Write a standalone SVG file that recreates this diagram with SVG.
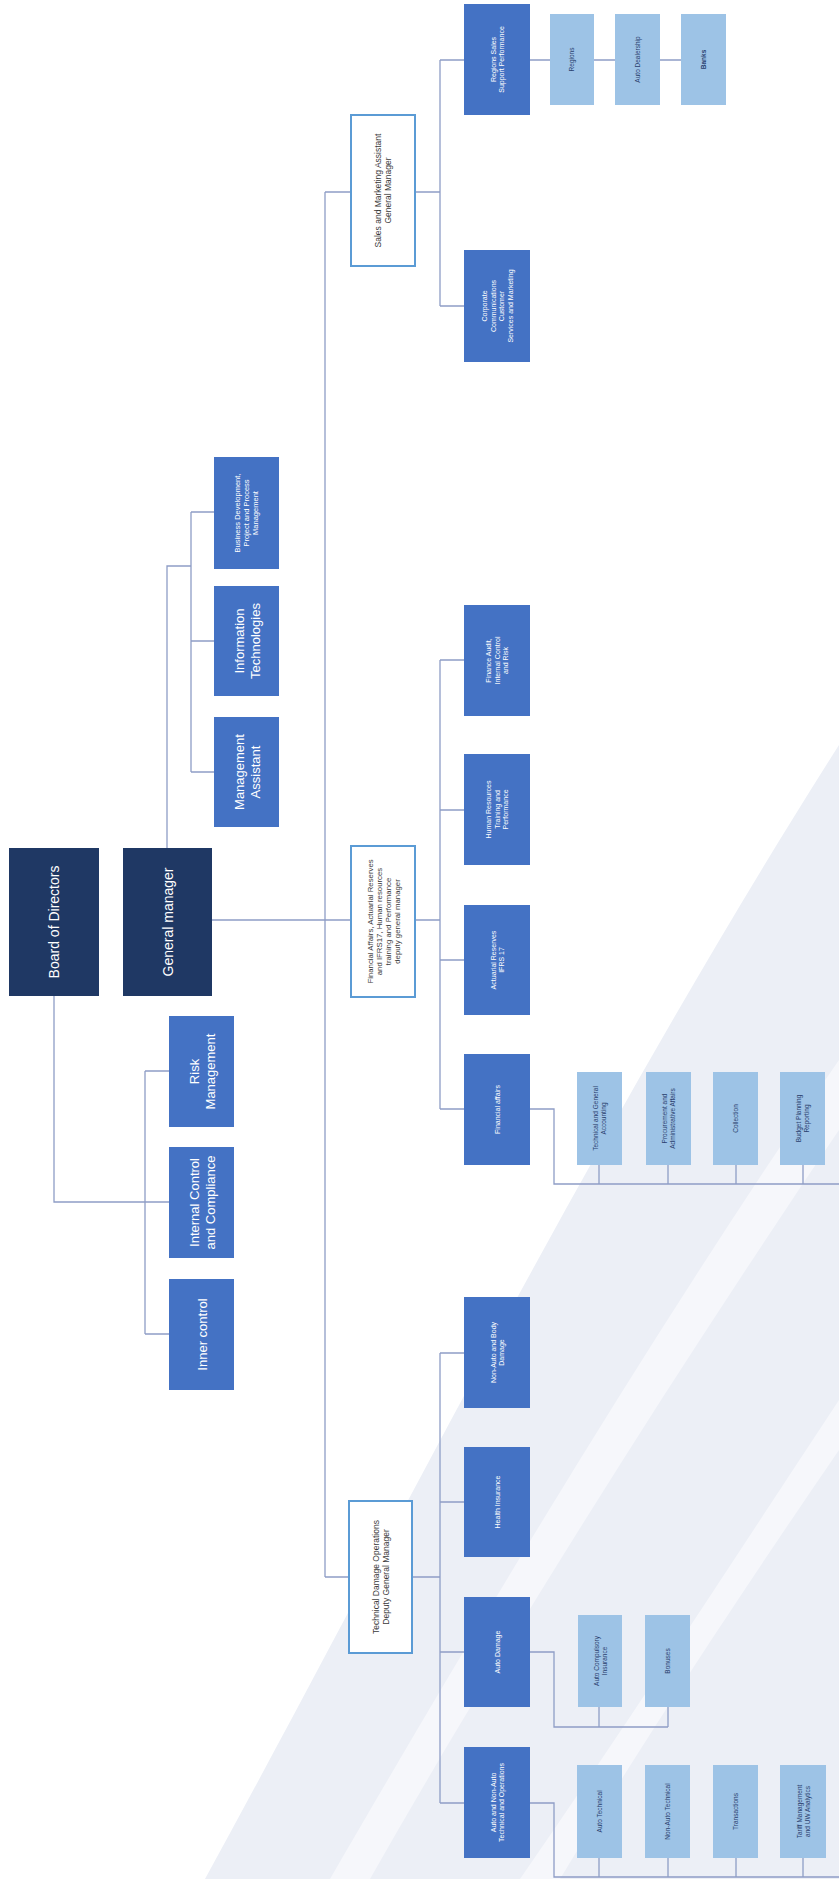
<svg xmlns="http://www.w3.org/2000/svg" width="839" height="1879" viewBox="0 0 839 1879">
<style>
.dark{fill:#1f3864}
.mid{fill:#4472c4}
.lite{fill:#9dc3e6}
.dep{fill:#ffffff;stroke:#5b9bd5;stroke-width:2}
text{font-family:"Liberation Sans",Arial,sans-serif;text-anchor:middle}
.w{fill:#ffffff}
.d{fill:#3a3a3a}
.n{fill:#2a3f6e}
.cn path{fill:none;stroke:#8e9dc6;stroke-width:1.3}
</style>
<rect width="839" height="1879" fill="#ffffff"/>
<g id="background">
<path d="M205,1879 C380,1560 600,1120 839,745 L839,1879 Z" fill="#eceff6"/>
<path d="M330,1879 C480,1620 660,1320 839,1060 L839,1130 C670,1380 500,1650 370,1879 Z" fill="#f6f7fb"/>
<path d="M520,1879 C630,1720 740,1550 839,1400 L839,1450 C750,1580 650,1730 560,1879 Z" fill="#f6f7fb"/>
</g>
<g class="cn" id="connectors">
<path d="M54,996 V1202 H169"/>
<path d="M145,1071 V1334 M145,1071 H169 M145,1334 H169"/>
<path d="M167,848 V566 H191 M191,512 V772 M191,512 H214 M191,641 H214 M191,772 H214"/>
<path d="M212,920 H351 M325,192 V1577 M325,192 H351 M325,1577 H349"/>
<path d="M415,192 H440 M440,60 V306 M440,60 H464 M440,306 H464"/>
<path d="M530,60 H550 M594,60 H615 M660,60 H681"/>
<path d="M415,920 H440 M440,660 V1109 M440,660 H464 M440,810 H464 M440,960 H464 M440,1109 H464"/>
<path d="M530,1109 H554 V1184 H839 M599,1165 V1184 M668,1165 V1184 M736,1165 V1184 M803,1165 V1184"/>
<path d="M412,1577 H440 M440,1353 V1803 M440,1353 H464 M440,1502 H464 M440,1652 H464 M440,1803 H464"/>
<path d="M530,1652 H554 V1727 H668 M599,1707 V1727 M668,1707 V1727"/>
<path d="M530,1803 H554 V1877 H839 M599,1858 V1877 M668,1858 V1877 M736,1858 V1877 M803,1858 V1877"/>
</g>
<g id="board"><rect class="dark" x="9" y="848" width="90" height="148"/><text class="w" font-size="14" transform="translate(54,922) rotate(-90)"><tspan x="0" y="5">Board of Directors</tspan></text></g>
<g id="gm"><rect class="dark" x="123" y="848" width="89" height="148"/><text class="w" font-size="14" transform="translate(167.5,922) rotate(-90)"><tspan x="0" y="5">General manager</tspan></text></g>
<g id="risk"><rect class="mid" x="169" y="1016" width="65" height="111"/><text class="w" font-size="13" transform="translate(201.5,1071.5) rotate(-90)"><tspan x="0" y="-3">Risk</tspan><tspan x="0" y="13">Management</tspan></text></g>
<g id="icc"><rect class="mid" x="169" y="1147" width="65" height="111"/><text class="w" font-size="13" transform="translate(201.5,1202.5) rotate(-90)"><tspan x="0" y="-3">Internal Control</tspan><tspan x="0" y="13">and Compliance</tspan></text></g>
<g id="inner"><rect class="mid" x="169" y="1279" width="65" height="111"/><text class="w" font-size="13" transform="translate(201.5,1334.5) rotate(-90)"><tspan x="0" y="5">Inner control</tspan></text></g>
<g id="ma"><rect class="mid" x="214" y="717" width="65" height="110"/><text class="w" font-size="13" transform="translate(246.5,772) rotate(-90)"><tspan x="0" y="-3">Management</tspan><tspan x="0" y="13">Assistant</tspan></text></g>
<g id="it"><rect class="mid" x="214" y="586" width="65" height="110"/><text class="w" font-size="13" transform="translate(246.5,641) rotate(-90)"><tspan x="0" y="-3">Information</tspan><tspan x="0" y="13">Technologies</tspan></text></g>
<g id="bd"><rect class="mid" x="214" y="457" width="65" height="112"/><text class="w" font-size="7.5" transform="translate(246.5,513) rotate(-90)"><tspan x="0" y="-6.5">Business Development,</tspan><tspan x="0" y="2.5">Project and Process</tspan><tspan x="0" y="11.5">Management</tspan></text></g>
<g id="sales"><rect class="dep" x="351" y="115" width="64" height="151"/><text class="d" font-size="8.5" transform="translate(383,190.5) rotate(-90)"><tspan x="0" y="-2">Sales and Marketing Assistant</tspan><tspan x="0" y="8">General Manager</tspan></text></g>
<g id="finance"><rect class="dep" x="351" y="846" width="64" height="151"/><text class="d" font-size="7.8" transform="translate(383,921.5) rotate(-90)"><tspan x="0" y="-10.5">Financial Affairs, Actuarial Reserves</tspan><tspan x="0" y="-1.5">and IFRS17, Human resources</tspan><tspan x="0" y="7.5">training and Performance</tspan><tspan x="0" y="16.5">deputy general manager</tspan></text></g>
<g id="technical"><rect class="dep" x="349" y="1501" width="63" height="152"/><text class="d" font-size="8.5" transform="translate(380.5,1577) rotate(-90)"><tspan x="0" y="-2">Technical Damage Operations</tspan><tspan x="0" y="8">Deputy General Manager</tspan></text></g>
<g id="regions"><rect class="mid" x="464" y="4" width="66" height="111"/><text class="w" font-size="7" transform="translate(497,59.5) rotate(-90)"><tspan x="0" y="-1.5">Regions Sales</tspan><tspan x="0" y="7">Support Performance</tspan></text></g>
<g id="corporate"><rect class="mid" x="464" y="250" width="66" height="112"/><text class="w" font-size="7" transform="translate(497,306) rotate(-90)"><tspan x="0" y="-10">Corporate</tspan><tspan x="0" y="-1.5">Communications</tspan><tspan x="0" y="7">Customer</tspan><tspan x="0" y="15.5">Services and Marketing</tspan></text></g>
<g id="audit"><rect class="mid" x="464" y="605" width="66" height="111"/><text class="w" font-size="7" transform="translate(497,660.5) rotate(-90)"><tspan x="0" y="-6">Finance Audit,</tspan><tspan x="0" y="2.5">Internal Control</tspan><tspan x="0" y="11">and Risk</tspan></text></g>
<g id="hr"><rect class="mid" x="464" y="754" width="66" height="111"/><text class="w" font-size="7" transform="translate(497,809.5) rotate(-90)"><tspan x="0" y="-6">Human Resources</tspan><tspan x="0" y="2.5">Training and</tspan><tspan x="0" y="11">Performance</tspan></text></g>
<g id="actuarial"><rect class="mid" x="464" y="905" width="66" height="110"/><text class="w" font-size="7" transform="translate(497,960) rotate(-90)"><tspan x="0" y="-1.5">Actuarial Reserves</tspan><tspan x="0" y="7">IFRS 17</tspan></text></g>
<g id="finaffairs"><rect class="mid" x="464" y="1054" width="66" height="111"/><text class="w" font-size="7" transform="translate(497,1109.5) rotate(-90)"><tspan x="0" y="2.5">Financial affairs</tspan></text></g>
<g id="nonauto"><rect class="mid" x="464" y="1297" width="66" height="111"/><text class="w" font-size="7" transform="translate(497,1352.5) rotate(-90)"><tspan x="0" y="-1.5">Non-Auto and Body</tspan><tspan x="0" y="7">Damage</tspan></text></g>
<g id="health"><rect class="mid" x="464" y="1447" width="66" height="110"/><text class="w" font-size="7" transform="translate(497,1502) rotate(-90)"><tspan x="0" y="2.5">Health Insurance</tspan></text></g>
<g id="autodamage"><rect class="mid" x="464" y="1597" width="66" height="110"/><text class="w" font-size="7" transform="translate(497,1652) rotate(-90)"><tspan x="0" y="2.5">Auto Damage</tspan></text></g>
<g id="autonon"><rect class="mid" x="464" y="1747" width="66" height="111"/><text class="w" font-size="7" transform="translate(497,1802.5) rotate(-90)"><tspan x="0" y="-1.5">Auto and Non-Auto</tspan><tspan x="0" y="7">Technical and Operations</tspan></text></g>
<g id="l-regions"><rect class="lite" x="550" y="14" width="44" height="91"/><text class="n" font-size="6.5" transform="translate(572,59.5) rotate(-90)"><tspan x="0" y="2.3">Regions</tspan></text></g>
<g id="l-dealer"><rect class="lite" x="615" y="14" width="45" height="91"/><text class="n" font-size="6.5" transform="translate(637.5,59.5) rotate(-90)"><tspan x="0" y="2.3">Auto Dealership</tspan></text></g>
<g id="l-banks"><rect class="lite" x="681" y="14" width="45" height="91"/><text class="n" font-size="6.5" font-weight="bold" transform="translate(703.5,59.5) rotate(-90)"><tspan x="0" y="2.3">Banks</tspan></text></g>
<g id="l-acc"><rect class="lite" x="577" y="1072" width="45" height="93"/><text class="n" font-size="6.5" transform="translate(599.5,1118.5) rotate(-90)"><tspan x="0" y="-1.5">Technical and General</tspan><tspan x="0" y="6.5">Accounting</tspan></text></g>
<g id="l-proc"><rect class="lite" x="646" y="1072" width="45" height="93"/><text class="n" font-size="6.5" transform="translate(668.5,1118.5) rotate(-90)"><tspan x="0" y="-1.5">Procurement and</tspan><tspan x="0" y="6.5">Administrative Affairs</tspan></text></g>
<g id="l-coll"><rect class="lite" x="713" y="1072" width="45" height="93"/><text class="n" font-size="6.5" transform="translate(735.5,1118.5) rotate(-90)"><tspan x="0" y="2.3">Collection</tspan></text></g>
<g id="l-budget"><rect class="lite" x="780" y="1072" width="45" height="93"/><text class="n" font-size="6.5" transform="translate(802.5,1118.5) rotate(-90)"><tspan x="0" y="-1.5">Budget Planning</tspan><tspan x="0" y="6.5">Reporting</tspan></text></g>
<g id="l-compulsory"><rect class="lite" x="578" y="1615" width="44" height="92"/><text class="n" font-size="6.5" transform="translate(600,1661) rotate(-90)"><tspan x="0" y="-1.5">Auto Compulsory</tspan><tspan x="0" y="6.5">Insurance</tspan></text></g>
<g id="l-bonuses"><rect class="lite" x="645" y="1615" width="45" height="92"/><text class="n" font-size="6.5" transform="translate(667.5,1661) rotate(-90)"><tspan x="0" y="2.3">Bonuses</tspan></text></g>
<g id="l-autotech"><rect class="lite" x="577" y="1765" width="45" height="93"/><text class="n" font-size="6.5" transform="translate(599.5,1811.5) rotate(-90)"><tspan x="0" y="2.3">Auto Technical</tspan></text></g>
<g id="l-nonautotech"><rect class="lite" x="645" y="1765" width="45" height="93"/><text class="n" font-size="6.5" transform="translate(667.5,1811.5) rotate(-90)"><tspan x="0" y="2.3">Non-Auto Technical</tspan></text></g>
<g id="l-trans"><rect class="lite" x="713" y="1765" width="45" height="93"/><text class="n" font-size="6.5" transform="translate(735.5,1811.5) rotate(-90)"><tspan x="0" y="2.3">Transactions</tspan></text></g>
<g id="l-tariff"><rect class="lite" x="780" y="1765" width="46" height="93"/><text class="n" font-size="6.5" transform="translate(803,1811.5) rotate(-90)"><tspan x="0" y="-1.5">Tariff Management</tspan><tspan x="0" y="6.5">and UW Analytics</tspan></text></g>
</svg>
